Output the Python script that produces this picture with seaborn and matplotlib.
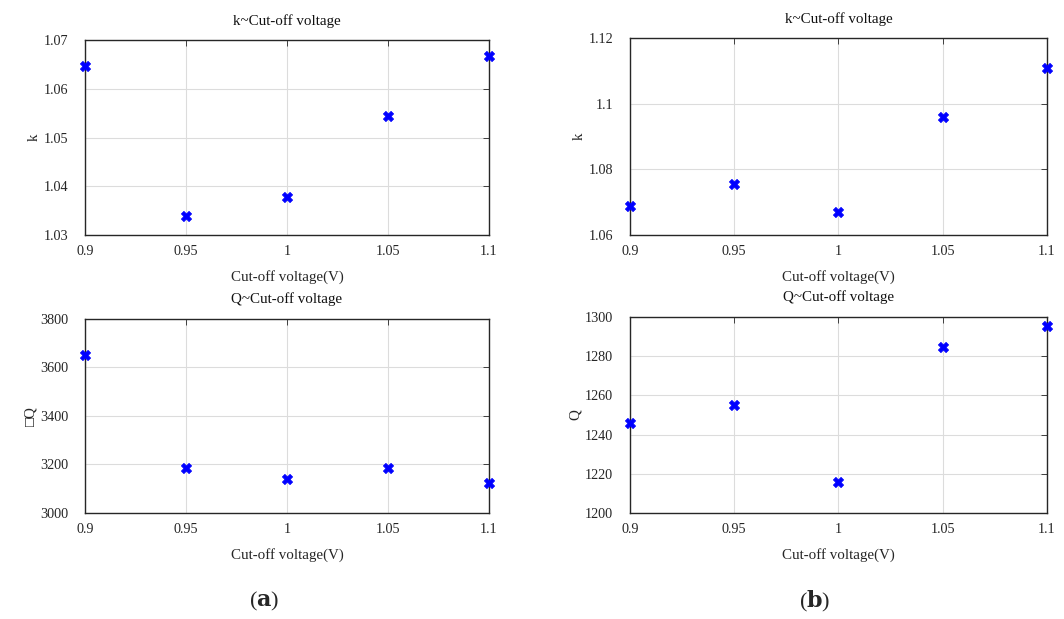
import matplotlib
matplotlib.use("Agg")
import matplotlib.pyplot as plt
import seaborn as sns
import pandas as pd

voltage = [0.9, 0.95, 1.0, 1.05, 1.1]
k_a = [1.0648, 1.0340, 1.0379, 1.0545, 1.0668]
k_b = [1.0689, 1.0755, 1.0670, 1.0961, 1.1108]
q_a = [3651, 3185, 3140, 3185, 3122]
q_b = [1245.8, 1254.9, 1215.8, 1284.4, 1295.3]
xticks = [0.9, 0.95, 1.0, 1.05, 1.1]
xticklabels = ["0.9", "0.95", "1", "1.05", "1.1"]
yt_ka = [1.03, 1.04, 1.05, 1.06, 1.07]
yt_kb = [1.06, 1.08, 1.1, 1.12]
yt_qa = [3000, 3200, 3400, 3600, 3800]
yt_qb = [1200, 1220, 1240, 1260, 1280, 1300]

sns.set_style("white")
plt.rcParams['font.family'] = ['Liberation Serif', 'DejaVu Sans']
plt.rcParams['xtick.direction'] = 'in'
plt.rcParams['ytick.direction'] = 'in'
plt.rcParams['mathtext.fontset'] = 'dejavuserif'

fig = plt.figure(figsize=(10.64, 6.19), dpi=100)

panels = [
    ([0.0799, 0.6204, 0.3797, 0.3142], k_a, yt_ka, ["1.03", "1.04", "1.05", "1.06", "1.07"], "k", "k~Cut-off voltage"),
    ([0.5921, 0.6204, 0.3919, 0.3178], k_b, yt_kb, ["1.06", "1.08", "1.1", "1.12"], "k", "k~Cut-off voltage"),
    ([0.0799, 0.1712, 0.3797, 0.3139], q_a, yt_qa, [str(v) for v in yt_qa], "\u25a1Q", "Q~Cut-off voltage"),
    ([0.5921, 0.1712, 0.3919, 0.3171], q_b, yt_qb, [str(v) for v in yt_qb], "Q", "Q~Cut-off voltage"),
]

for rect, vals, yt, ytl, ylab, title in panels:
    ax = fig.add_axes(rect)
    df = pd.DataFrame({"x": voltage, "y": vals})
    sns.scatterplot(data=df, x="x", y="y", ax=ax, marker="X", s=55,
                    color="#0000ff", edgecolor="#0000ff", linewidth=0.5,
                    clip_on=False, zorder=5)
    ax.set_xlim(0.9, 1.1)
    ax.set_ylim(yt[0], yt[-1])
    ax.set_xticks(xticks)
    ax.set_xticklabels(xticklabels)
    ax.set_yticks(yt)
    ax.set_yticklabels(ytl)
    ax.grid(True, color="#dcdcdc", linewidth=0.8)
    ax.set_axisbelow(True)
    for s in ax.spines.values():
        s.set_color("#262626")
        s.set_linewidth(1.0)
    ax.tick_params(axis="both", labelsize=10.2, colors="#262626", length=4,
                   width=0.6, top=True, right=True)
    ax.tick_params(axis="x", pad=7)
    ax.tick_params(axis="y", pad=12)
    ax.set_xlabel("Cut-off voltage(V)", fontsize=10.8, color="#262626", labelpad=9)
    ax.set_ylabel(ylab, fontsize=10.8, color="#262626", labelpad=2)
    ax.set_title(title, fontsize=10.8, color="#111111", pad=11)

fig.text(0.248, 0.028, r"($\mathbf{a}$)", fontsize=16, ha="center", va="center")
fig.text(0.766, 0.028, r"($\mathbf{b}$)", fontsize=16, ha="center", va="center")

fig.savefig("out.png", dpi=100)
